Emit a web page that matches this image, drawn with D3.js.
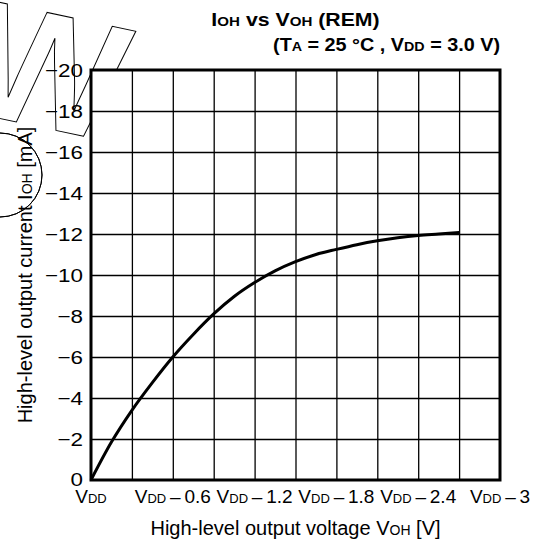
<!DOCTYPE html>
<html>
<head>
<meta charset="utf-8">
<script src="https://cdn.jsdelivr.net/npm/d3@7"></script>
<style>
  body { margin: 0; background: #fff; }
  text { font-family: "Liberation Sans", Arial, sans-serif; fill: #000; }
</style>
</head>
<body>
<div id="chart"></div>
<script>

// V(DD) - VOH drop [V] and |IOH| [mA]
var voltageDrop = [0, 0.15, 0.3, 0.45, 0.6, 0.75, 0.9, 1.05, 1.2, 1.35, 1.5, 1.65, 1.8, 1.95, 2.1, 2.25, 2.4, 2.55, 2.7];
var currentMag  = [0, 1.85, 3.4, 4.75, 6.0, 7.1, 8.1, 8.95, 9.63, 10.2, 10.65, 11.0, 11.25, 11.48, 11.67, 11.82, 11.93, 12.0, 12.07];

var xTicks = [0, 0.6, 1.2, 1.8, 2.4, 3];
var xTickLabels = ["", "0.6", "1.2", "1.8", "2.4", "3"];
var xGrid = [0.3, 0.6, 0.9, 1.2, 1.5, 1.8, 2.1, 2.4, 2.7];
var yTicks = [0, 2, 4, 6, 8, 10, 12, 14, 16, 18, 20];

var W = 543, H = 546;
var margin = { top: 70, right: 43, bottom: 66, left: 91 };
var width = W - margin.left - margin.right,
    height = H - margin.top - margin.bottom;

var svg = d3.select("#chart").append("svg")
    .attr("width", W)
    .attr("height", H);

// faint outlined stamp in the corner (sits under the plot area)
var stamp = svg.append("g")
    .attr("fill", "none")
    .attr("stroke", "#000")
    .attr("stroke-width", 1);
stamp.append("text")
    .attr("transform", "translate(-40,110) rotate(12)")
    .style("font-size", "165px")
    .style("font-weight", "bold")
    .style("fill", "none")
    .text("W");
stamp.append("path")
    .attr("transform", "translate(0,175)")
    .attr("d", d3.arc().innerRadius(42).outerRadius(42).startAngle(0).endAngle(Math.PI)());

var g = svg.append("g")
    .attr("transform", "translate(" + margin.left + "," + margin.top + ")");

var x = d3.scaleLinear().domain([0, 3]).range([0, width]);
var y = d3.scaleLinear().domain([0, 20]).range([height, 0]);

// white plot area
g.append("rect")
    .attr("width", width)
    .attr("height", height)
    .attr("fill", "#fff");

// grid lines
g.append("g")
    .attr("class", "grid-x")
    .call(d3.axisBottom(x).tickValues(xGrid).tickSize(height).tickFormat(""))
    .call(function(s) {
        s.select(".domain").remove();
        s.selectAll(".tick line").attr("stroke", "#000").attr("stroke-width", 1.3);
    });

g.append("g")
    .attr("class", "grid-y")
    .call(d3.axisLeft(y).tickValues(yTicks.slice(1, -1)).tickSize(-width).tickFormat(""))
    .call(function(s) {
        s.select(".domain").remove();
        s.selectAll(".tick line").attr("stroke", "#000").attr("stroke-width", 1.3);
    });

// frame
g.append("rect")
    .attr("width", width)
    .attr("height", height)
    .attr("fill", "none")
    .attr("stroke", "#000")
    .attr("stroke-width", 3);

// curve
var line = d3.line()
    .curve(d3.curveMonotoneX)
    .x(function(d, i) { return x(voltageDrop[i]); })
    .y(function(d) { return y(d); });

g.append("path")
    .datum(currentMag)
    .attr("fill", "none")
    .attr("stroke", "#000")
    .attr("stroke-width", 3)
    .attr("d", line);

// y tick labels (glyphs a bit wide in the original)
g.append("g")
    .attr("class", "y-axis")
    .selectAll("text")
    .data(yTicks)
    .enter().append("text")
    .attr("transform", function(d) { return "translate(-8," + (y(d) - (d === 0 ? 1 : 0)) + ") scale(1.18,1)"; })
    .attr("dy", "0.36em")
    .attr("text-anchor", "end")
    .style("font-size", "19px")
    .text(function(d) { return d === 0 ? "0" : "\u2212" + d; });

// x tick labels  (VDD, VDD – 0.6, ...)
var xl = g.append("g").attr("class", "x-labels")
    .selectAll("text")
    .data(xTicks)
    .enter().append("text")
    .attr("x", function(d) { return x(d); })
    .attr("y", height + 23)
    .attr("text-anchor", "middle")
    .style("font-size", "19px");
xl.append("tspan").text("V");
xl.append("tspan").style("font-size", "13px").text("DD");
xl.append("tspan").text(function(d, i) {
    return xTickLabels[i] ? "\u2009\u2013\u2009" + xTickLabels[i] : "";
});

// axis titles
var xt = svg.append("text")
    .attr("x", margin.left + width / 2)
    .attr("y", 535)
    .attr("text-anchor", "middle")
    .style("font-size", "20px");
xt.append("tspan").text("High-level output voltage V");
xt.append("tspan").style("font-size", "14px").text("OH");
xt.append("tspan").text(" [V]");

var yt = svg.append("text")
    .attr("transform", "translate(32," + (margin.top + height / 2) + ") rotate(-90)")
    .attr("text-anchor", "middle")
    .style("font-size", "20px");
yt.append("tspan").text("High-level output current I");
yt.append("tspan").style("font-size", "14px").text("OH");
yt.append("tspan").text(" [mA]");

// chart title
var t1 = svg.append("text")
    .attr("transform", "translate(" + (margin.left + width / 2) + ",26) scale(1.12,1)")
    .attr("text-anchor", "middle")
    .style("font-size", "19px")
    .style("font-weight", "bold");
t1.append("tspan").text("I");
t1.append("tspan").style("font-size", "13.5px").text("OH");
t1.append("tspan").text(" vs V");
t1.append("tspan").style("font-size", "13.5px").text("OH");
t1.append("tspan").text(" (REM)");

var t2 = svg.append("text")
    .attr("transform", "translate(" + (margin.left + width) + ",51) scale(1.1,1)")
    .attr("text-anchor", "end")
    .style("font-size", "18px")
    .style("font-weight", "bold");
t2.append("tspan").text("(T");
t2.append("tspan").style("font-size", "13px").text("A");
t2.append("tspan").text(" = 25 \u00B0C , V");
t2.append("tspan").style("font-size", "13px").text("DD");
t2.append("tspan").text(" = 3.0 V)");

</script>
</body>
</html>
